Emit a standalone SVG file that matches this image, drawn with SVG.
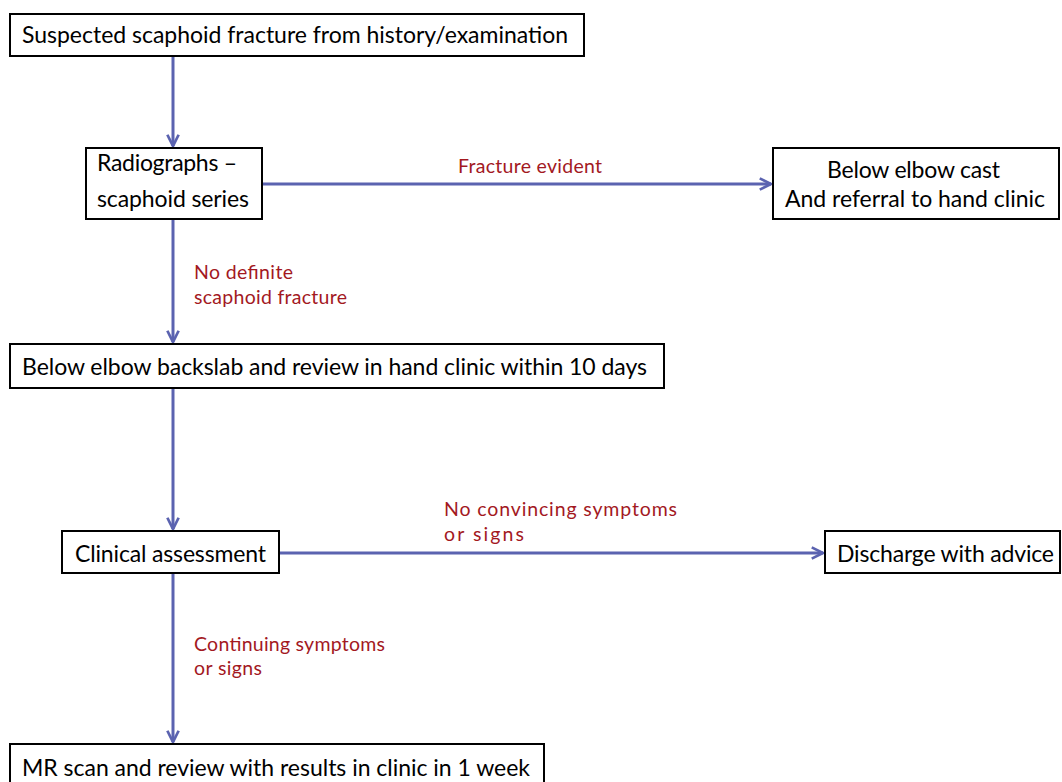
<svg xmlns="http://www.w3.org/2000/svg" width="1062" height="782" viewBox="0 0 1062 782">
<style>
.box{fill:#fff;stroke:#000;stroke-width:2}
.t{font-family:Lato,"Open Sans","Liberation Sans",sans-serif;font-size:23px;fill:#000}
.l{font-family:Lato,"Open Sans","Liberation Sans",sans-serif;font-size:19.5px;fill:#a3191f}
.c{fill:none;stroke:#5b63b0;stroke-width:3;marker-end:url(#ah)}
</style>
<defs>
<marker id="ah" viewBox="0 0 12 12" refX="11" refY="6" markerWidth="5" markerHeight="5" orient="auto" markerUnits="strokeWidth">
<path d="M2,1.5 L11,6 L2,10.5" fill="none" stroke="#5b63b0" stroke-width="2.2" stroke-linejoin="miter"/>
</marker>
</defs>
<rect width="1062" height="782" fill="#fff"/>
<g id="connectors">
<path class="c" d="M173,56 V146"/>
<path class="c" d="M262,184 H771"/>
<path class="c" d="M173,219 V342"/>
<path class="c" d="M173,388 V529"/>
<path class="c" d="M279,553 H823"/>
<path class="c" d="M173,573 V742"/>
<text class="l" x="458" y="173" textLength="144">Fracture evident</text>
<text class="l" x="194" y="279" textLength="99">No definite</text>
<text class="l" x="194" y="304" textLength="153">scaphoid fracture</text>
<text class="l" x="444" y="516" textLength="233">No convincing symptoms</text>
<text class="l" x="444" y="541" textLength="80">or signs</text>
<text class="l" x="194" y="651" textLength="191">Continuing symptoms</text>
<text class="l" x="194" y="675" textLength="68">or signs</text>
</g>
<g id="n1"><rect class="box" x="10" y="14" width="574" height="42"/><text class="t" x="22" y="43" textLength="546">Suspected scaphoid fracture from history/examination</text></g>
<g id="n2"><rect class="box" x="86" y="148" width="176" height="71"/><text class="t" x="97" y="171" textLength="140">Radiographs –</text><text class="t" x="97" y="207" textLength="152">scaphoid series</text></g>
<g id="n3"><rect class="box" x="773" y="148" width="286" height="71"/><text class="t" x="827" y="178" textLength="173">Below elbow cast</text><text class="t" x="785" y="207" textLength="260">And referral to hand clinic</text></g>
<g id="n4"><rect class="box" x="10" y="344" width="654" height="44"/><text class="t" x="22" y="375" textLength="625">Below elbow backslab and review in hand clinic within 10 days</text></g>
<g id="n5"><rect class="box" x="62" y="531" width="217" height="42"/><text class="t" x="75" y="562" textLength="191">Clinical assessment</text></g>
<g id="n6"><rect class="box" x="825" y="531" width="235" height="42"/><text class="t" x="837" y="562" textLength="217">Discharge with advice</text></g>
<g id="n7"><rect class="box" x="10" y="744" width="534" height="50"/><text class="t" x="22" y="776" textLength="508">MR scan and review with results in clinic in 1 week</text></g>
</svg>
